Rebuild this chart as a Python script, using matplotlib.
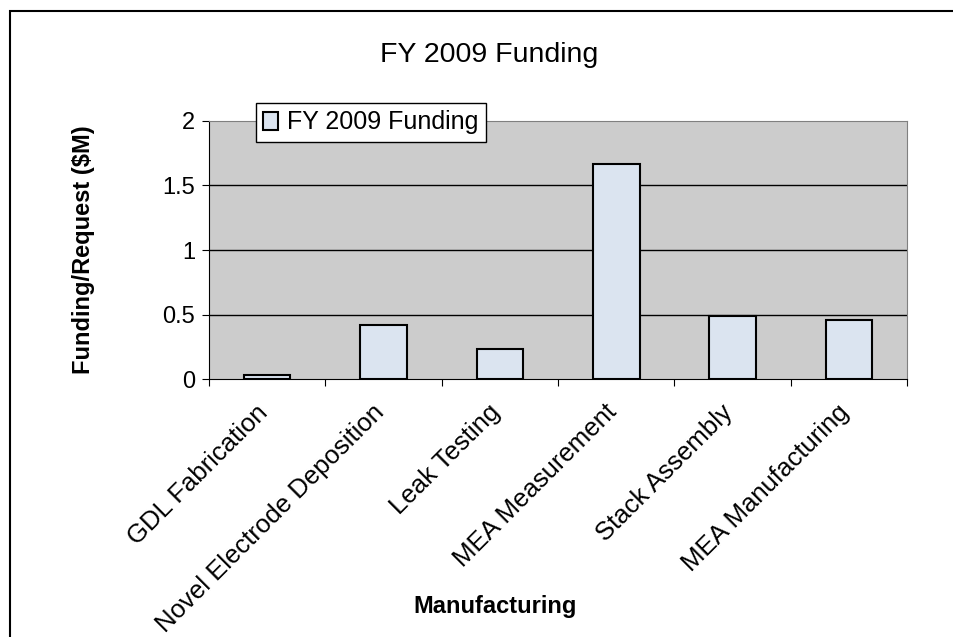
import matplotlib.pyplot as plt
import matplotlib.transforms as mtransforms
from matplotlib.patches import Rectangle

categories = ['GDL Fabrication', 'Novel Electrode Deposition', 'Leak Testing',
              'MEA Measurement', 'Stack Assembly', 'MEA Manufacturing']
funding = [0.033, 0.417, 0.234, 1.665, 0.489, 0.456]
yticks = [0, 0.5, 1, 1.5, 2]

plt.rcParams['font.family'] = ['Liberation Sans', 'DejaVu Sans']

fig = plt.figure(figsize=(9.54, 6.37), dpi=100)
ax = fig.add_axes([0.219, 0.4045, 0.732, 0.406])

# outer chart frame (runs off the right and bottom edge)
fig.patches.append(Rectangle((10 / 954, -0.1), 1.2, 1 - 11 / 637 + 0.1,
                             transform=fig.transFigure, fill=False,
                             edgecolor='black', linewidth=1.5, zorder=0))

ax.set_facecolor('#cccccc')
x = range(len(categories))
ax.bar(x, funding, width=0.40, color='#dbe4f0', edgecolor='black',
       linewidth=1.5, label='FY 2009 Funding', zorder=3)

ax.set_xlim(-0.5, len(categories) - 0.5)
ax.set_ylim(0, 2)
ax.set_yticks(yticks)
ax.set_yticklabels(['0', '0.5', '1', '1.5', '2'], fontsize=17)
for y in yticks[1:-1]:
    ax.axhline(y, color='black', linewidth=1, zorder=1)

# ticks between categories, labels at centres
ax.set_xticks([i - 0.5 for i in range(len(categories) + 1)])
ax.set_xticklabels([])
ax.set_xticks(list(x), minor=True)
ax.set_xticklabels(categories, minor=True, rotation=45, ha='right',
                   va='top', rotation_mode='anchor', fontsize=18.5)
ax.tick_params(axis='x', which='minor', length=0, pad=15)
ax.tick_params(axis='x', which='major', length=5, direction='out')
ax.tick_params(axis='y', length=5, direction='out', pad=5)
shift = mtransforms.ScaledTranslation(-0.12, 0, fig.dpi_scale_trans)
for lbl in ax.get_xticklabels(minor=True):
    lbl.set_transform(lbl.get_transform() + shift)

for side in ['top', 'right']:
    ax.spines[side].set_color('#808080')
for side in ['left', 'bottom']:
    ax.spines[side].set_color('black')

leg = ax.legend(loc='upper left', bbox_to_anchor=(256 / 954, 1 - 103 / 637),
                bbox_transform=fig.transFigure, fontsize=18, fancybox=False,
                framealpha=1, edgecolor='black', handlelength=0.6,
                handleheight=0.75, handletextpad=0.35, borderpad=0.3,
                borderaxespad=0)
leg.get_frame().set_linewidth(1)

fig.text(489 / 954, 1 - 62 / 637, 'FY 2009 Funding', ha='center',
         va='baseline', fontsize=20.5)
fig.text(84 / 954, 1 - 250 / 637, 'Funding/Request ($M)', ha='center',
         va='center', rotation=90, fontsize=17, fontweight='bold')
fig.text(495 / 954, 1 - 607 / 637, 'Manufacturing', ha='center', va='center',
         fontsize=17, fontweight='bold')

fig.savefig('out.png', dpi=100)
